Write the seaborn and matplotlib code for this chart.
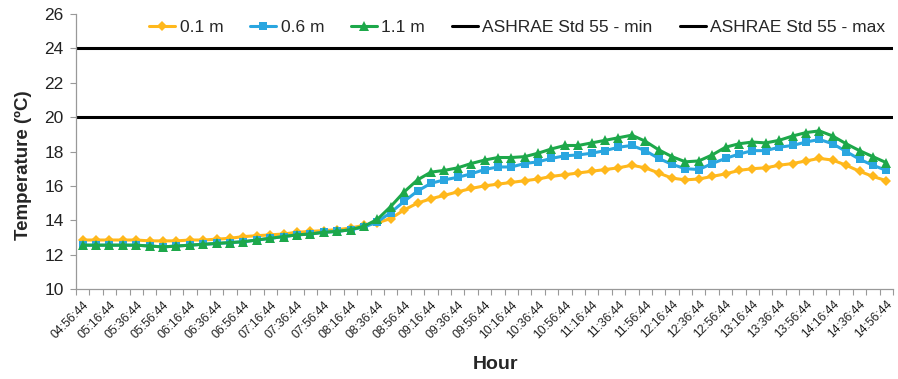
import matplotlib
matplotlib.use("Agg")
import matplotlib.pyplot as plt
import seaborn as sns
import pandas as pd
import numpy as np
from matplotlib.ticker import FixedLocator

times = []
h, m = 4, 56
for k in range(61):
    times.append(f"{h:02d}:{m:02d}:44")
    m += 10
    if m >= 60:
        m -= 60
        h += 1

t_01 = [12.85, 12.85, 12.85, 12.85, 12.85, 12.8, 12.8, 12.8, 12.85, 12.85,
        12.9, 12.95, 13.05, 13.1, 13.15, 13.2, 13.3, 13.35, 13.4, 13.45,
        13.55, 13.7, 13.85, 14.1, 14.6, 15.0, 15.25, 15.45, 15.65, 15.85,
        16.0, 16.1, 16.2, 16.3, 16.4, 16.55, 16.65, 16.75, 16.85, 16.95,
        17.05, 17.2, 17.05, 16.75, 16.45, 16.35, 16.4, 16.55, 16.7, 16.9,
        17.0, 17.05, 17.2, 17.3, 17.45, 17.6, 17.5, 17.2, 16.85, 16.55, 16.3]
t_06 = [12.55, 12.55, 12.55, 12.55, 12.55, 12.5, 12.45, 12.5, 12.55, 12.6,
        12.65, 12.7, 12.75, 12.85, 12.95, 13.05, 13.15, 13.2, 13.3, 13.35,
        13.45, 13.6, 13.9, 14.45, 15.1, 15.7, 16.15, 16.35, 16.5, 16.7,
        16.95, 17.1, 17.1, 17.3, 17.4, 17.6, 17.75, 17.8, 17.9, 18.05,
        18.25, 18.35, 18.05, 17.6, 17.25, 17.0, 16.95, 17.3, 17.6, 17.85,
        18.05, 18.05, 18.25, 18.35, 18.55, 18.7, 18.45, 18.0, 17.55, 17.2, 16.9]
t_11 = [12.55, 12.55, 12.55, 12.55, 12.55, 12.5, 12.45, 12.5, 12.55, 12.6,
        12.65, 12.7, 12.75, 12.85, 12.95, 13.05, 13.15, 13.2, 13.3, 13.35,
        13.45, 13.65, 14.05, 14.8, 15.65, 16.35, 16.8, 16.9, 17.05, 17.3,
        17.5, 17.65, 17.65, 17.7, 17.9, 18.15, 18.35, 18.35, 18.5, 18.65,
        18.8, 18.95, 18.6, 18.1, 17.7, 17.4, 17.45, 17.8, 18.25, 18.45,
        18.55, 18.5, 18.65, 18.9, 19.1, 19.2, 18.9, 18.45, 18.05, 17.7, 17.35]
ashrae_min = 20
ashrae_max = 24
y_ticks = [10, 12, 14, 16, 18, 20, 22, 24, 26]

sns.set_style("white")
plt.rcParams['font.family'] = ['Liberation Sans Narrow', 'Liberation Sans', 'DejaVu Sans']

df = pd.DataFrame({"idx": np.arange(len(times)), "time": times,
                   "0.1 m": t_01, "0.6 m": t_06, "1.1 m": t_11})

fig = plt.figure(figsize=(8.98, 3.79), dpi=100)
ax = fig.add_axes([76/898, 1-289/379, 817/898, 275/379])

sns.lineplot(data=df, x="idx", y="0.1 m", ax=ax, color="#FFB81C", marker="D",
             markersize=5, markeredgewidth=0, linewidth=2.2, label="0.1 m")
sns.lineplot(data=df, x="idx", y="0.6 m", ax=ax, color="#2AA6E0", marker="s",
             markersize=6, markeredgewidth=0, linewidth=2.2, label="0.6 m")
sns.lineplot(data=df, x="idx", y="1.1 m", ax=ax, color="#1DA84A", marker="^",
             markersize=7, markeredgewidth=0, linewidth=2.2, label="1.1 m")
ax.axhline(ashrae_min, color="black", linewidth=2.2, label="ASHRAE Std 55 - min")
ax.axhline(ashrae_max, color="black", linewidth=2.2, label="ASHRAE Std 55 - max")

ax.set_xlim(-0.5, len(times) - 0.5)
ax.set_ylim(10, 26)
ax.set_yticks(y_ticks)
ax.set_yticklabels([str(v) for v in y_ticks], fontsize=12.5, color="#222222")

lab_pos = list(range(0, len(times), 2))
ax.set_xticks(lab_pos)
ax.set_xticklabels([times[i] for i in lab_pos], rotation=45, ha="right",
                   rotation_mode="anchor", fontsize=8.8, color="#222222")
ax.xaxis.set_minor_locator(FixedLocator(np.arange(-0.5, len(times), 1)))
ax.tick_params(axis="x", which="major", length=0, pad=7)
ax.tick_params(axis="x", which="minor", length=4, color="#999999", width=0.8, direction="out", bottom=True)
ax.tick_params(axis="y", which="major", length=4, color="#999999", width=0.8, direction="out", left=True, pad=5)

for s in ["top", "right"]:
    ax.spines[s].set_visible(False)
for s in ["left", "bottom"]:
    ax.spines[s].set_color("#999999")
    ax.spines[s].set_linewidth(0.9)

ax.set_xlabel("Hour", fontsize=14, fontweight="bold")
ax.set_ylabel("Temperature (ºC)", fontsize=13.5, fontweight="bold")
ax.xaxis.set_label_coords(0.513, -0.245)
ax.yaxis.set_label_coords(-0.054, 0.45)

leg = ax.legend(loc="center", bbox_to_anchor=(0.54, 0.95), ncol=5, frameon=False,
                fontsize=12.5, handlelength=1.5, handletextpad=0.25, columnspacing=1.55,
                borderaxespad=0)

fig.savefig("out.png", dpi=100)
